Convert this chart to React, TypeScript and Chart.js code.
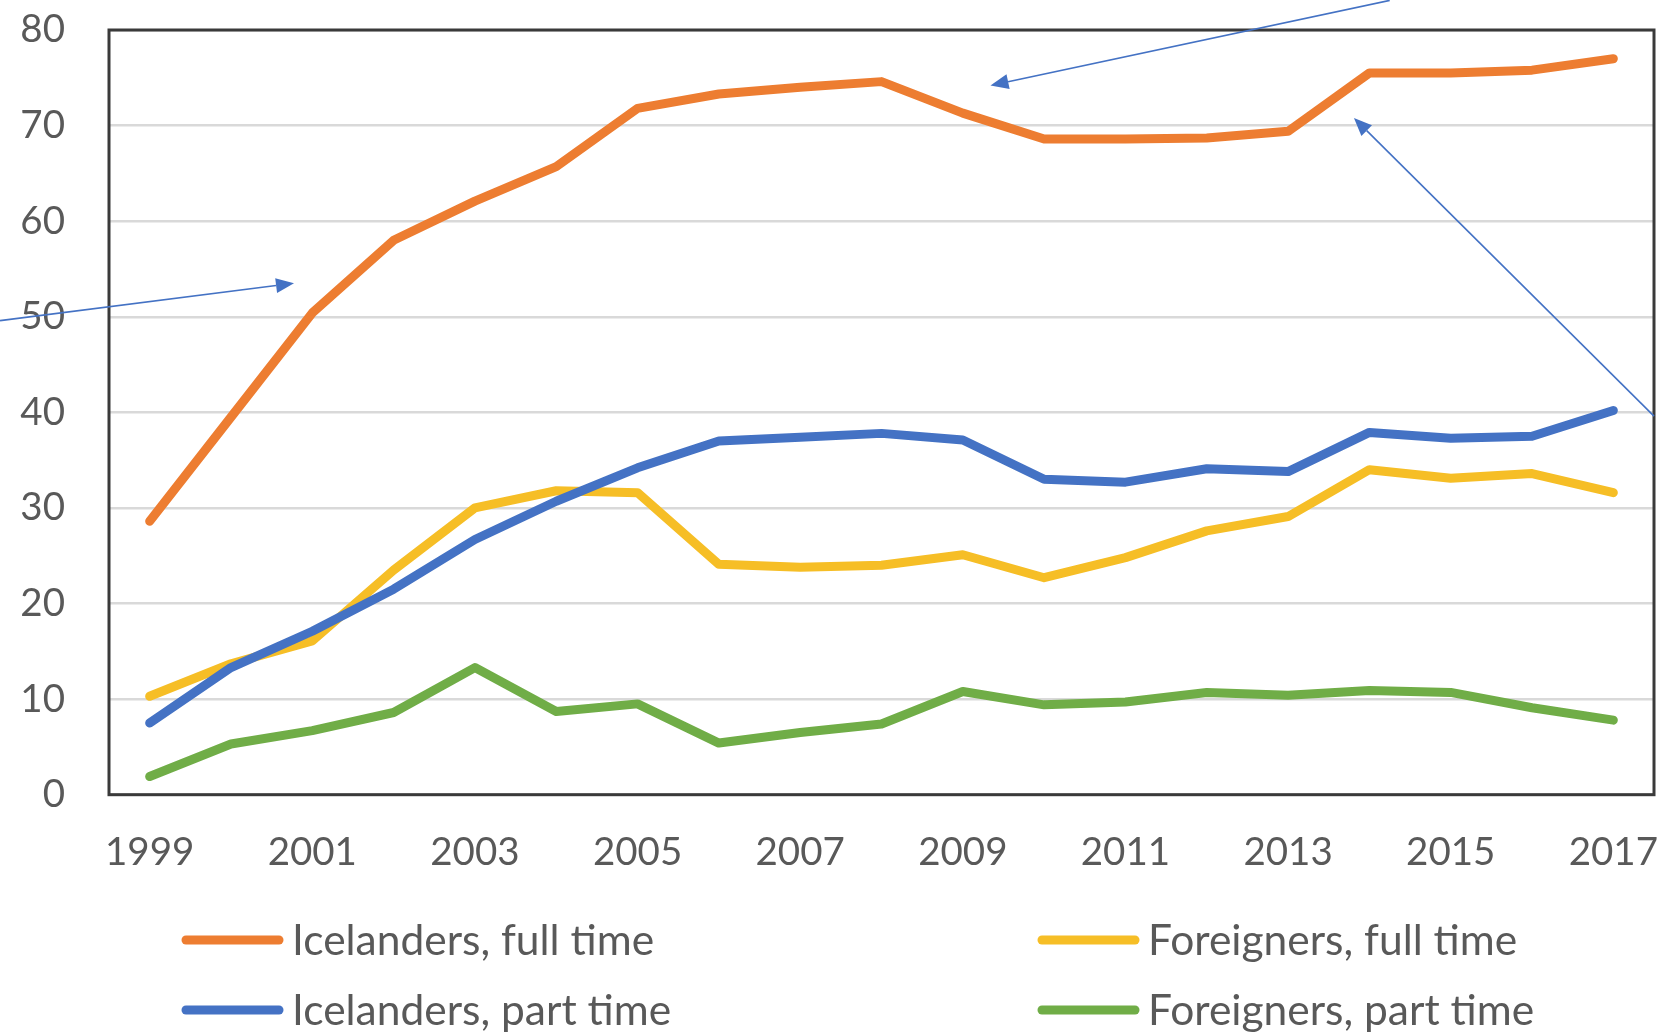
import React, { useEffect, useRef } from 'react';
import { Chart, registerables } from 'chart.js';

Chart.register(...registerables);

// ---- data ----
const years = ['1999', '2000', '2001', '2002', '2003', '2004', '2005', '2006', '2007', '2008', '2009', '2010', '2011', '2012', '2013', '2014', '2015', '2016', '2017'];
const icelandersFull = [28.6, 39.5, 50.4, 58.0, 62.1, 65.7, 71.8, 73.3, 74.0, 74.6, 71.3, 68.6, 68.6, 68.7, 69.4, 75.5, 75.5, 75.8, 77.0];
const icelandersPart = [7.5, 13.3, 17.1, 21.5, 26.7, 30.7, 34.2, 37.0, 37.4, 37.8, 37.1, 33.0, 32.7, 34.1, 33.8, 37.9, 37.3, 37.5, 40.2];
const foreignersFull = [10.3, 13.7, 16.1, 23.5, 30.0, 31.8, 31.6, 24.1, 23.8, 24.0, 25.1, 22.7, 24.8, 27.6, 29.1, 34.0, 33.1, 33.6, 31.6];
const foreignersPart = [1.9, 5.3, 6.7, 8.6, 13.3, 8.7, 9.5, 5.4, 6.5, 7.4, 10.8, 9.4, 9.7, 10.7, 10.4, 10.9, 10.7, 9.1, 7.8];
const seriesLabels = ['Icelanders, full time', 'Icelanders, part time', 'Foreigners, full time', 'Foreigners, part time'];
const seriesColors = ['#ED7D31', '#4472C4', '#F6BE26', '#70AD47'];
const yMin = 0;
const yMax = 80;
const yStep = 10;

// annotation arrows, in data coordinates (category index, value)
const arrows = [
  { from: [-1.84, 49.6], to: [1.775, 53.5] },
  { from: [15.25, 83.1], to: [10.34, 74.2] },
  { from: [18.5, 39.6], to: [14.81, 70.8] },
];

const FONT = 'Lato, "Open Sans", sans-serif';
const TEXT = '#595959';

const framePlugin = {
  id: 'frame',
  beforeDatasetsDraw(chart: any) {
    const { ctx, chartArea } = chart;
    ctx.save();
    ctx.strokeStyle = '#3a3a3a';
    ctx.lineWidth = 3;
    ctx.strokeRect(chartArea.left, chartArea.top, chartArea.right - chartArea.left, chartArea.bottom - chartArea.top);
    ctx.restore();
  },
};

const arrowPlugin = {
  id: 'arrows',
  afterDraw(chart: any) {
    const { ctx } = chart;
    const xs = chart.scales.x;
    const ys = chart.scales.y;
    ctx.save();
    ctx.strokeStyle = '#4472C4';
    ctx.fillStyle = '#4472C4';
    ctx.lineWidth = 1.6;
    arrows.forEach((a) => {
      const x0 = xs.getPixelForValue(a.from[0]);
      const y0 = ys.getPixelForValue(a.from[1]);
      const x1 = xs.getPixelForValue(a.to[0]);
      const y1 = ys.getPixelForValue(a.to[1]);
      const ang = Math.atan2(y1 - y0, x1 - x0);
      const len = 18;
      const hw = 7.5;
      const bx = x1 - len * Math.cos(ang);
      const by = y1 - len * Math.sin(ang);
      ctx.beginPath();
      ctx.moveTo(x0, y0);
      ctx.lineTo(bx, by);
      ctx.stroke();
      ctx.beginPath();
      ctx.moveTo(x1, y1);
      ctx.lineTo(bx + hw * Math.sin(ang), by - hw * Math.cos(ang));
      ctx.lineTo(bx - hw * Math.sin(ang), by + hw * Math.cos(ang));
      ctx.closePath();
      ctx.fill();
    });
    ctx.restore();
  },
};

const legendPlugin = {
  id: 'gridLegend',
  afterDraw(chart: any) {
    const { ctx } = chart;
    const order = [0, 2, 1, 3];
    const colX = [182, 1038];
    const rowY = [940, 1010];
    ctx.save();
    ctx.font = `42.5px ${FONT}`;
    ctx.textBaseline = 'middle';
    ctx.textAlign = 'left';
    order.forEach((dsIndex, i) => {
      const ds = chart.data.datasets[dsIndex];
      const x = colX[i % 2];
      const y = rowY[Math.floor(i / 2)];
      ctx.strokeStyle = ds.borderColor;
      ctx.lineWidth = 9;
      ctx.lineCap = 'round';
      ctx.beginPath();
      ctx.moveTo(x + 4, y);
      ctx.lineTo(x + 97, y);
      ctx.stroke();
      ctx.fillStyle = TEXT;
      ctx.fillText(ds.label, x + 110, y + 1);
    });
    ctx.restore();
  },
};

export default function App() {
  const canvasRef = useRef<HTMLCanvasElement | null>(null);

  useEffect(() => {
    if (!canvasRef.current) return;
    const seriesData = [icelandersFull, icelandersPart, foreignersFull, foreignersPart];
    const chart = new Chart(canvasRef.current, {
      type: 'line',
      data: {
        labels: years,
        datasets: seriesData.map((d, i) => ({
          label: seriesLabels[i],
          data: d,
          borderColor: seriesColors[i],
          backgroundColor: seriesColors[i],
          borderWidth: 9,
          borderCapStyle: 'round',
          borderJoinStyle: 'round',
          pointRadius: 0,
          tension: 0,
          fill: false,
        })),
      },
      options: {
        animation: false,
        responsive: false,
        devicePixelRatio: 1,
        layout: { padding: { top: 30, right: 3, left: 0, bottom: 0 } },
        plugins: { legend: { display: false }, tooltip: { enabled: false } },
        scales: {
          x: {
            offset: true,
            grid: { display: false, drawTicks: false },
            border: { display: false },
            ticks: {
              autoSkip: false,
              maxRotation: 0,
              minRotation: 0,
              padding: 35,
              color: TEXT,
              font: { family: FONT, size: 38.5 },
              callback: function (this: any, v: any, i: number) {
                return i % 2 === 0 ? years[i] : '';
              },
            },
            afterFit: (s: any) => {
              s.height = 239.3;
              s.paddingLeft = 0;
              s.paddingRight = 0;
            },
          },
          y: {
            min: yMin,
            max: yMax,
            ticks: {
              stepSize: yStep,
              padding: 44,
              color: TEXT,
              font: { family: FONT, size: 38.5 },
            },
            grid: { color: '#D9D9D9', lineWidth: 2.5, drawTicks: false },
            border: { display: false },
            afterFit: (s: any) => {
              s.width = 109;
              s.paddingTop = 0;
              s.paddingBottom = 0;
            },
          },
        },
      } as any,
      plugins: [framePlugin, arrowPlugin, legendPlugin],
    });
    return () => chart.destroy();
  }, []);

  return (
    <div style={{ position: 'fixed', left: 0, top: 0, width: 1657, height: 1034, background: '#fff' }}>
      <canvas ref={canvasRef} width={1657} height={1034} style={{ width: 1657, height: 1034, display: 'block' }} />
    </div>
  );
}
